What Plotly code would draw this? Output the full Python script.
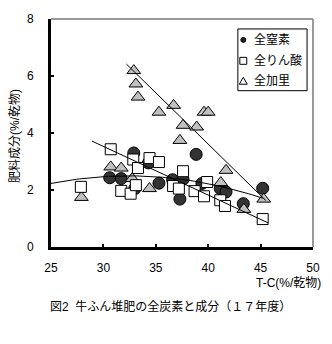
import numpy as np
import plotly.graph_objects as go

# Total carbon (T-C, %/dry matter) vs. fertilizer components (%/dry matter)
nitrogen_x = [30.6, 31.7, 32.9, 33.0, 34.3, 35.3, 36.6, 37.6, 37.3, 38.85, 39.4, 41.15, 41.7, 43.35, 45.2]
nitrogen_y = [2.43, 2.40, 3.30, 2.05, 2.95, 2.24, 2.36, 2.38, 1.68, 3.25, 2.23, 2.05, 1.93, 1.52, 2.06]

phosphate_x = [27.85, 30.7, 32.85, 34.4, 35.3, 33.3, 31.7, 32.6, 33.1, 37.6, 36.65, 37.2,
               39.9, 38.7, 39.6, 41.15, 41.6, 45.2]
phosphate_y = [2.11, 3.43, 3.07, 3.12, 2.98, 2.77, 1.97, 1.87, 2.17, 2.66, 2.14, 2.05,
               2.28, 1.96, 1.78, 1.64, 1.44, 0.98]

potassium_x = [32.9, 33.1, 33.3, 35.3, 36.7, 39.6, 40.0, 37.6, 38.9, 37.3, 30.7, 31.7,
               32.75, 34.4, 27.9, 41.2, 41.7, 43.4, 45.3]
potassium_y = [6.19, 5.72, 5.26, 4.73, 4.97, 4.73, 4.73, 4.27, 4.21, 3.74, 2.81, 2.77,
               2.40, 2.05, 1.74, 2.26, 2.69, 1.32, 1.68]

# Trend lines: polynomial coefficients (constant first) and x span
nitrogen_fit = [-2.569, 0.3123, -0.004814]
nitrogen_fit_span = [25.0, 45.2]
phosphate_fit = [8.65, -0.1707]
phosphate_fit_span = [28.9, 45.7]
potassium_fit = [18.01, -0.36]
potassium_fit_span = [32.2, 45.5]

series_names = ["全窒素", "全りん酸", "全加里"]
x_ticks = [25, 30, 35, 40, 45, 50]
y_ticks = [0, 2, 4, 6, 8]

W, H = 332, 344
ML, MR, MT, MB = 51, 16, 18, 97
PW, PH = W - ML - MR, H - MT - MB

CJK = "Liberation Sans, Noto Sans CJK JP"


def px_x(p):
    return (p - ML) / PW


def px_y(p):
    return (H - MB - p) / PH


def poly(coefs, span, n=60):
    xs = np.linspace(span[0], span[1], n)
    ys = sum(c * xs ** i for i, c in enumerate(coefs))
    return xs, ys


fig = go.Figure()

fig.add_trace(go.Scatter(
    x=nitrogen_x, y=nitrogen_y, mode="markers", name=series_names[0], showlegend=False,
    marker=dict(symbol="circle", size=12, color="#333333", line=dict(color="black", width=1)),
))
fig.add_trace(go.Scatter(
    x=potassium_x, y=potassium_y, mode="markers", name=series_names[2], showlegend=False,
    marker=dict(symbol="triangle-up", size=12, color="#c0c0c0", line=dict(color="black", width=1)),
))
fig.add_trace(go.Scatter(
    x=phosphate_x, y=phosphate_y, mode="markers", name=series_names[1], showlegend=False,
    marker=dict(symbol="square", size=11, color="white", line=dict(color="black", width=1)),
))

for coefs, span in [(nitrogen_fit, nitrogen_fit_span),
                    (phosphate_fit, phosphate_fit_span),
                    (potassium_fit, potassium_fit_span)]:
    xs, ys = poly(coefs, span)
    fig.add_trace(go.Scatter(x=xs, y=ys, mode="lines", showlegend=False, hoverinfo="skip",
                             line=dict(color="black", width=1)))

shapes = [
    # grey top and right frame edges
    dict(type="line", xref="paper", yref="paper", x0=0, x1=1, y0=1, y1=1,
         line=dict(color="#999999", width=2)),
    dict(type="line", xref="paper", yref="paper", x0=1, x1=1, y0=0, y1=1,
         line=dict(color="#999999", width=2)),
    # legend box
    dict(type="rect", xref="paper", yref="paper",
         x0=px_x(240), x1=px_x(310), y0=px_y(90), y1=px_y(28),
         line=dict(color="black", width=1), fillcolor="white"),
]

# legend symbols
sx = 245.5
rows = [39, 60, 80]
shapes.append(dict(type="circle", xref="paper", yref="paper",
                   x0=px_x(sx - 2.5), x1=px_x(sx + 2.5), y0=px_y(rows[0] + 2.5), y1=px_y(rows[0] - 2.5),
                   fillcolor="#222222", line=dict(color="black", width=1)))
shapes.append(dict(type="rect", xref="paper", yref="paper",
                   x0=px_x(sx - 3.5), x1=px_x(sx + 3.5), y0=px_y(rows[1] + 3.5), y1=px_y(rows[1] - 3.5),
                   fillcolor="white", line=dict(color="black", width=1)))
tri = "M {:.4f} {:.4f} L {:.4f} {:.4f} L {:.4f} {:.4f} Z".format(
    px_x(sx - 4), px_y(rows[2] + 3.5), px_x(sx + 4), px_y(rows[2] + 3.5), px_x(sx), px_y(rows[2] - 3.5))
shapes.append(dict(type="path", xref="paper", yref="paper", path=tri,
                   fillcolor="white", line=dict(color="black", width=1)))

annotations = []
for name, ry in zip(series_names, rows):
    annotations.append(dict(text=name, xref="paper", yref="paper", x=px_x(254), y=px_y(ry),
                            xanchor="left", yanchor="middle", showarrow=False,
                            font=dict(family=CJK, size=12, color="black")))

annotations += [
    dict(text="T-C(%/乾物)", xref="paper", yref="paper", x=px_x(326), y=px_y(283),
         xanchor="right", yanchor="middle", showarrow=False,
         font=dict(family=CJK, size=12, color="black")),
    dict(text="肥料成分(%/乾物)", xref="paper", yref="paper", x=px_x(15), y=px_y(135),
         xanchor="center", yanchor="middle", textangle=-90, showarrow=False,
         font=dict(family=CJK, size=12, color="black")),
    dict(text="図2  牛ふん堆肥の全炭素と成分（１７年度）", xref="paper", yref="paper",
         x=px_x(172), y=px_y(307), xanchor="center", yanchor="middle", showarrow=False,
         font=dict(family=CJK, size=12, color="black")),
]

fig.update_layout(
    width=W, height=H,
    margin=dict(l=ML, r=MR, t=MT, b=MB, pad=0),
    paper_bgcolor="white", plot_bgcolor="white",
    font=dict(family=CJK, size=12, color="black"),
    shapes=shapes, annotations=annotations,
    xaxis=dict(range=[25, 50], tickvals=x_ticks, showgrid=False, zeroline=False,
               showline=True, linecolor="black", linewidth=3,
               ticks="inside", ticklen=3, tickwidth=2, tickcolor="black",
               ticklabelstandoff=8, tickfont=dict(family="Liberation Sans", size=12)),
    yaxis=dict(range=[0, 8], tickvals=y_ticks, showgrid=False, zeroline=False,
               showline=True, linecolor="black", linewidth=3,
               ticks="inside", ticklen=3, tickwidth=2, tickcolor="black",
               ticklabelstandoff=12, tickfont=dict(family="Liberation Sans", size=12)),
)

fig.write_html("out.html")
